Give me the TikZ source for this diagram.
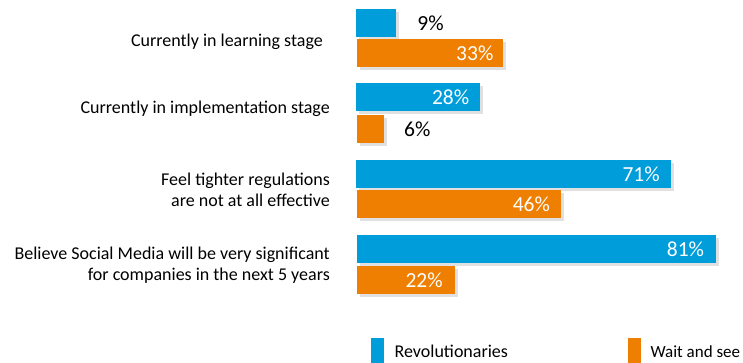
\documentclass[tikz,border=0pt]{standalone}
\usepackage{fontspec}
\setmainfont{Carlito}
\usepackage{tikz}
\usetikzlibrary{positioning}
\usetikzlibrary{shadows}
\usetikzlibrary{calc}
\usepackage{xcolor}

\definecolor{revblue}{RGB}{0,157,219}
\definecolor{waitorange}{RGB}{238,127,0}

\tikzset{
  bar/.style={anchor=west, inner sep=0pt, minimum height=28pt, minimum width={#1*4.43pt},
    drop shadow={shadow xshift=3pt, shadow yshift=-3pt, opacity=0.12, fill=black}},
  rev/.style={bar=#1, fill=revblue},
  wait/.style={bar=#1, fill=waitorange},
  inval/.style={anchor=east, text=white, inner sep=0pt, font=\fontsize{21.5}{24}\selectfont},
  outval/.style={anchor=west, text=black, inner sep=0pt, font=\fontsize{21.5}{24}\selectfont},
  cat/.style={anchor=east, align=right, inner sep=0pt, font=\fontsize{18}{21}\selectfont},
  key/.style={inner sep=0pt, minimum width=13pt, minimum height=25pt, anchor=north west}
}

\begin{document}
\begin{tikzpicture}[x=1pt,y=-1pt]
        \useasboundingbox (0,0) rectangle (743,363);

        % bars
        \node[rev=9] (rev1) at (356,23) {};
        \node[wait=33] (wait1) at (357,53) {};
        \node[rev=28] (rev2) at (356,97) {};
        \node[wait=6] (wait2) at (357,129) {};
        \node[rev=71] (rev3) at (356,174) {};
        \node[wait=46] (wait3) at (357,204) {};
        \node[rev=81] (rev4) at (357,249) {};
        \node[wait=22] (wait4) at (357,280) {};

        % values
        \node[outval, right=21pt of rev1] (v1) {9\%};
        \node[inval] (v2) at ([xshift=-10pt]wait1.east) {33\%};
        \node[inval] (v3) at ([xshift=-11pt]rev2.east) {28\%};
        \node[outval, right=20pt of wait2] (v4) {6\%};
        \node[inval] (v5) at ([xshift=-11pt]rev3.east) {71\%};
        \node[inval] (v6) at ([xshift=-11pt]wait3.east) {46\%};
        \node[inval] (v7) at ([xshift=-12pt]rev4.east) {81\%};
        \node[inval] (v8) at ([xshift=-12pt]wait4.east) {22\%};

        % categories
        \node[cat] (c1) at (323,42) {Currently in learning stage};
        \node[cat] (c2) at (330,109) {Currently in implementation stage};
        \node[cat] (c3) at (330,190) {Feel tighter regulations\\are not at all effective};
        \node[cat] (c4) at (330,265) {Believe Social Media will be very significant\\for companies in the next 5 years};

        % legend
        \node[key, fill=revblue] (k1) at (371,338) {};
        \node[cat, anchor=west, right=10pt of k1, yshift=-1pt] (l1) {Revolutionaries};
        \node[key, fill=waitorange] (k2) at (628,338) {};
        \node[cat, anchor=west, right=9pt of k2, yshift=-1pt, font=\fontsize{17}{20}\selectfont] (l2) {Wait and see};
\end{tikzpicture}
\end{document}
